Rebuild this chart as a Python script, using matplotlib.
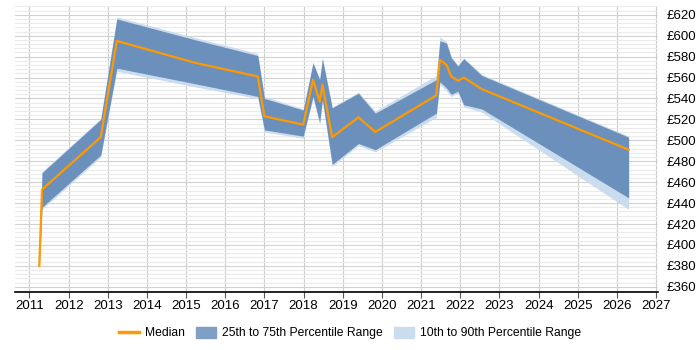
import matplotlib
matplotlib.use("Agg")
import matplotlib.pyplot as plt
from matplotlib.ticker import MultipleLocator, FuncFormatter
from matplotlib.patches import Patch
from matplotlib.lines import Line2D

plt.rcParams['font.family'] = ['Liberation Sans', 'DejaVu Sans']

# decimal years
years = [2011.25, 2011.32, 2012.82, 2013.23, 2015.24, 2016.83, 2017.00, 2017.99,
         2018.24, 2018.41, 2018.48, 2018.73, 2019.40, 2019.83, 2021.39, 2021.48,
         2021.65, 2021.77, 2021.94, 2022.09, 2022.55, 2026.30]
median = [380, 453, 503, 595, 574, 561, 523, 515, 558, 537, 553, 503, 522, 508,
          543, 577, 572, 561, 557, 560, 549, 491]
p25 = [378, 436, 486, 569, 554, 542, 510, 504, 542, 517, 539, 477, 497, 491,
       526, 556, 550, 544, 547, 534, 530, 445]
p75 = [382, 469, 520, 616, 596, 581, 540, 529, 574, 558, 578, 531, 545, 526,
       558, 595, 593, 579, 571, 578, 562, 503]
p10 = [372, 434, 484, 566, 551, 540, 508, 502, 540, 515, 537, 475, 495, 489,
       522, 554, 547, 542, 545, 532, 527, 434]
p90 = [383, 470, 521, 618, 598, 583, 542, 530, 575, 559, 579, 532, 546, 528,
       562, 599, 594, 580, 572, 579, 563, 504]

fig = plt.figure(figsize=(7, 3.5), dpi=100)
ax = fig.add_axes([15/700, 1-292/350, 643/700, 286/350])

ax.fill_between(years, p10, p90, color='#cadcee', lw=0, zorder=2)
ax.fill_between(years, p25, p75, color='#6b90bc', lw=0, zorder=3)
ax.plot(years, median, color='#ff9900', lw=1.6, zorder=4)

ax.set_xlim(2010.63, 2027.05)
ax.set_ylim(355, 628.4)
ax.xaxis.set_major_locator(MultipleLocator(1))
ax.xaxis.set_major_formatter(FuncFormatter(lambda v, p: '%d' % v))
ax.yaxis.set_major_locator(MultipleLocator(20))
ax.yaxis.set_minor_locator(MultipleLocator(4))
ax.yaxis.set_major_formatter(FuncFormatter(lambda v, p: '\u00a3%d' % v))
ax.yaxis.tick_right()

ax.grid(axis='x', which='major', color='#cccccc', lw=0.8, zorder=0)
ax.grid(axis='y', which='major', color='#d2d2d2', lw=0.8, zorder=0)
ax.grid(axis='y', which='minor', color='#ebebeb', lw=0.8, zorder=0)

for s in ['top', 'left', 'right']:
    ax.spines[s].set_visible(False)
ax.spines['bottom'].set_color('black')
ax.spines['bottom'].set_linewidth(1.2)
ax.tick_params(axis='x', length=4, color='#555555', labelsize=9.5, pad=2)
ax.tick_params(axis='y', which='both', length=0, labelsize=9.5, pad=6)
ax.set_axisbelow(True)

handles = [Line2D([0], [0], color='#ff9900', lw=2.5),
           Patch(color='#7f9fc4'),
           Patch(color='#cadcee')]
labels = ['Median', '25th to 75th Percentile Range', '10th to 90th Percentile Range']
fig.legend(handles, labels, loc='center', bbox_to_anchor=(0.5, 1-333/350), ncol=3,
           frameon=False, fontsize=8.7, handlelength=1.65, handleheight=1.0,
           columnspacing=0.9, handletextpad=0.5)

fig.savefig('out.png', dpi=100)
